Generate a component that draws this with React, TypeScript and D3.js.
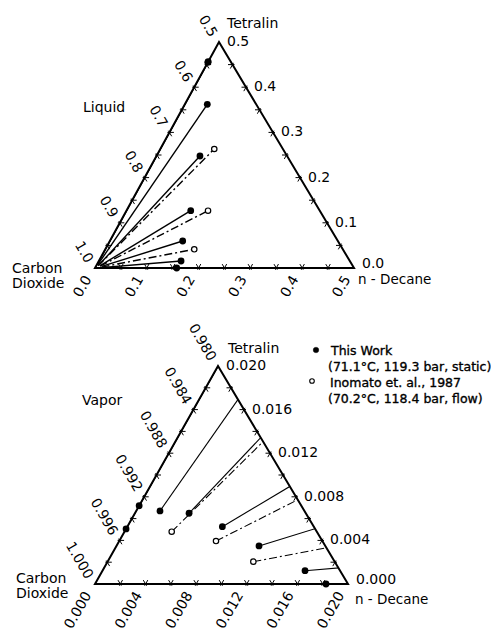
import React from 'react';
import * as d3 from 'd3';

// ---- Data (mole fractions) ----
// "This Work" tie lines: vapor (near pure CO2) and liquid compositions
const twVapDecane = [0, 0, 0.00188, 0.00428, 0.00751, 0.01127, 0.01601, 0.01826];
const twVapTetralin = [0.00718, 0.00505, 0.0067, 0.00649, 0.00526, 0.00349, 0.00122, 0];
const twLiqDecane = [0, 0, 0.0434, 0.084, 0.1241, 0.1407, 0.1587, 0.1577];
const twLiqTetralin = [0.4564, 0.455, 0.3622, 0.2478, 0.1268, 0.0597, 0.0155, 0];
// Inomata et al., 1987
const inVapDecane = [0.00373, 0.00765, 0.01152];
const inVapTetralin = [0.0048, 0.00394, 0.00205];
const inLiqDecane = [0.1042, 0.1575, 0.1718];
const inLiqTetralin = [0.2633, 0.1268, 0.0414];

// Tick labels
const liquidLabels = ['0.0', '0.1', '0.2', '0.3', '0.4', '0.5'];
const liquidCO2Labels = ['1.0', '0.9', '0.8', '0.7', '0.6', '0.5'];
const vaporLabels = ['0.000', '0.004', '0.008', '0.012', '0.016', '0.020'];
const vaporCO2Labels = ['1.000', '0.996', '0.992', '0.988', '0.984', '0.980'];
const legendLines = ['This Work', '(71.1°C, 119.3 bar, static)', 'Inomato et. al., 1987', '(70.2°C, 118.4 bar, flow)'];

type Pt = [number, number];
interface Cfg {
  id: string;
  co2: Pt; dec: Pt; tet: Pt;
  max: number;
  sideLabels: string[];
  co2Labels: string[];
  phase: string;
  phaseXY: Pt;
  tetXY: Pt;
  decXY: Pt;
  carbonXY: Pt;
  liquidMarks: boolean;
  lineWidth: number;
}

const FONT = 'DejaVu Sans';

function norm(a: Pt, b: Pt): Pt {
  const dx = b[0] - a[0], dy = b[1] - a[1];
  const l = Math.hypot(dx, dy);
  return [dx / l, dy / l];
}

function Panel({ cfg }: { cfg: Cfg }) {
  const frac = d3.scaleLinear().domain([0, cfg.max]).range([0, 1]);
  const P = (d: number, t: number): Pt => [
    cfg.co2[0] + frac(d) * (cfg.dec[0] - cfg.co2[0]) + frac(t) * (cfg.tet[0] - cfg.co2[0]),
    cfg.co2[1] + frac(d) * (cfg.dec[1] - cfg.co2[1]) + frac(t) * (cfg.tet[1] - cfg.co2[1]),
  ];
  const uB = norm(cfg.co2, cfg.dec);
  const uL = norm(cfg.co2, cfg.tet);
  const uR = norm(cfg.dec, cfg.tet);
  const neg = (u: Pt): Pt => [-u[0], -u[1]];
  const tickVals = d3.range(1, 10).map((i) => (cfg.max * i) / 10);
  const labelVals = d3.range(0, 6).map((i) => (cfg.max * i) / 5);
  const line = d3.line<Pt>();

  const tickPath = (p: Pt, dirs: Pt[]) =>
    dirs.map((u) => `M${p[0] - 2 * u[0]},${p[1] - 2 * u[1]}L${p[0] + 4.5 * u[0]},${p[1] + 4.5 * u[1]}`).join('');

  let ticks = '';
  tickVals.forEach((v) => {
    ticks += tickPath(P(v, 0), [uL, uR]);
    ticks += tickPath(P(0, v), [uB, neg(uR)]);
    ticks += tickPath(P(cfg.max - v, v), [neg(uB), neg(uL)]);
  });

  const tri = line([cfg.co2, cfg.dec, cfg.tet, cfg.co2]) + 'Z';
  const dashDot = '8,3,2,3';

  return (
    <g>
      <defs>
        <clipPath id={`clip-${cfg.id}`}>
          <path d={tri} />
        </clipPath>
      </defs>
      <g clipPath={`url(#clip-${cfg.id})`}>
        {twVapDecane.map((_, i) => (
          <path key={`tw${i}`} d={line([P(twVapDecane[i], twVapTetralin[i]), P(twLiqDecane[i], twLiqTetralin[i])]) || ''}
            stroke="#000" strokeWidth={cfg.lineWidth} fill="none" />
        ))}
        {inVapDecane.map((_, i) => (
          <path key={`in${i}`} d={line([P(inVapDecane[i], inVapTetralin[i]), P(inLiqDecane[i], inLiqTetralin[i])]) || ''}
            stroke="#000" strokeWidth={cfg.lineWidth} fill="none" strokeDasharray={dashDot} />
        ))}
      </g>
      <path d={tri} fill="none" stroke="#000" strokeWidth={2} strokeLinejoin="miter" />
      <path d={ticks} fill="none" stroke="#000" strokeWidth={1} />
      {cfg.liquidMarks ? (
        <g>
          {twLiqDecane.map((d, i) => {
            const p = P(d, twLiqTetralin[i]);
            return <circle key={`tl${i}`} cx={p[0]} cy={p[1]} r={3.4} fill="#000" />;
          })}
          {inLiqDecane.map((d, i) => {
            const p = P(d, inLiqTetralin[i]);
            return <circle key={`il${i}`} cx={p[0]} cy={p[1]} r={2.7} fill="#fff" stroke="#000" strokeWidth={1.2} />;
          })}
        </g>
      ) : (
        <g>
          {twVapDecane.map((d, i) => {
            const p = P(d, twVapTetralin[i]);
            return <circle key={`tv${i}`} cx={p[0]} cy={p[1]} r={3.4} fill="#000" />;
          })}
          {inVapDecane.map((d, i) => {
            const p = P(d, inVapTetralin[i]);
            return <circle key={`iv${i}`} cx={p[0]} cy={p[1]} r={2.7} fill="#fff" stroke="#000" strokeWidth={1.2} />;
          })}
        </g>
      )}
      {/* right edge labels (tetralin) */}
      {labelVals.map((v, i) => {
        const p = P(cfg.max - v, v);
        return (
          <text key={`r${i}`} x={p[0] + 8} y={p[1] - 1 - (i === 0 ? 4 : 0)} dominantBaseline="central"
            fontFamily={FONT} fontSize={14}>{cfg.sideLabels[i]}</text>
        );
      })}
      {/* bottom labels (n-decane) */}
      {labelVals.map((v, i) => {
        const p = P(v, 0);
        const x = p[0] - 7.5, y = p[1] + 8.5;
        return (
          <text key={`b${i}`} x={x} y={y} textAnchor="end" dominantBaseline="central"
            transform={`rotate(-60 ${x} ${y})`} fontFamily={FONT} fontSize={14}>{cfg.sideLabels[i]}</text>
        );
      })}
      {/* left labels (CO2) */}
      {labelVals.map((v, i) => {
        const p = P(0, v);
        const x = p[0] - 5, y = p[1] - 6.5;
        return (
          <text key={`l${i}`} x={x} y={y} textAnchor="end" dominantBaseline="central"
            transform={`rotate(60 ${x} ${y})`} fontFamily={FONT} fontSize={14}>{cfg.co2Labels[i]}</text>
        );
      })}
      <text x={cfg.tetXY[0]} y={cfg.tetXY[1]} fontFamily={FONT} fontSize={14}>Tetralin</text>
      <text x={cfg.decXY[0]} y={cfg.decXY[1]} fontFamily={FONT} fontSize={13.5}>n - Decane</text>
      <text x={cfg.carbonXY[0]} y={cfg.carbonXY[1]} fontFamily={FONT} fontSize={14}>Carbon</text>
      <text x={cfg.carbonXY[0]} y={cfg.carbonXY[1] + 15} fontFamily={FONT} fontSize={14}>Dioxide</text>
      <text x={cfg.phaseXY[0]} y={cfg.phaseXY[1]} fontFamily={FONT} fontSize={14}>{cfg.phase}</text>
    </g>
  );
}

const liquidCfg: Cfg = {
  id: 'liq',
  co2: [95, 268], dec: [354, 268], tet: [219, 42],
  max: 0.5,
  sideLabels: liquidLabels,
  co2Labels: liquidCO2Labels,
  phase: 'Liquid',
  phaseXY: [83, 112],
  tetXY: [227, 28],
  decXY: [358, 284],
  carbonXY: [12, 273],
  liquidMarks: true,
  lineWidth: 1.4,
};

const vaporCfg: Cfg = {
  id: 'vap',
  co2: [95, 584], dec: [348, 584], tet: [218, 366],
  max: 0.02,
  sideLabels: vaporLabels,
  co2Labels: vaporCO2Labels,
  phase: 'Vapor',
  phaseXY: [82, 405],
  tetXY: [228, 353],
  decXY: [355, 604],
  carbonXY: [16, 583],
  liquidMarks: false,
  lineWidth: 1.1,
};

export default function App() {
  return (
    <svg width={491} height={631} style={{ position: 'absolute', left: 0, top: 0, background: '#fff' }}>
      <rect width={491} height={631} fill="#fff" />
      <Panel cfg={liquidCfg} />
      <Panel cfg={vaporCfg} />
      <g fontFamily={FONT} fontSize={12.5} stroke="#000" strokeWidth={0.35}>
        <circle cx={316} cy={350} r={2.8} fill="#000" />
        <text x={331} y={355}>{legendLines[0]}</text>
        <text x={328} y={371}>{legendLines[1]}</text>
        <circle cx={312} cy={381} r={2.3} fill="#fff" stroke="#000" strokeWidth={1.1} />
        <text x={330} y={387}>{legendLines[2]}</text>
        <text x={328} y={403}>{legendLines[3]}</text>
      </g>
    </svg>
  );
}
